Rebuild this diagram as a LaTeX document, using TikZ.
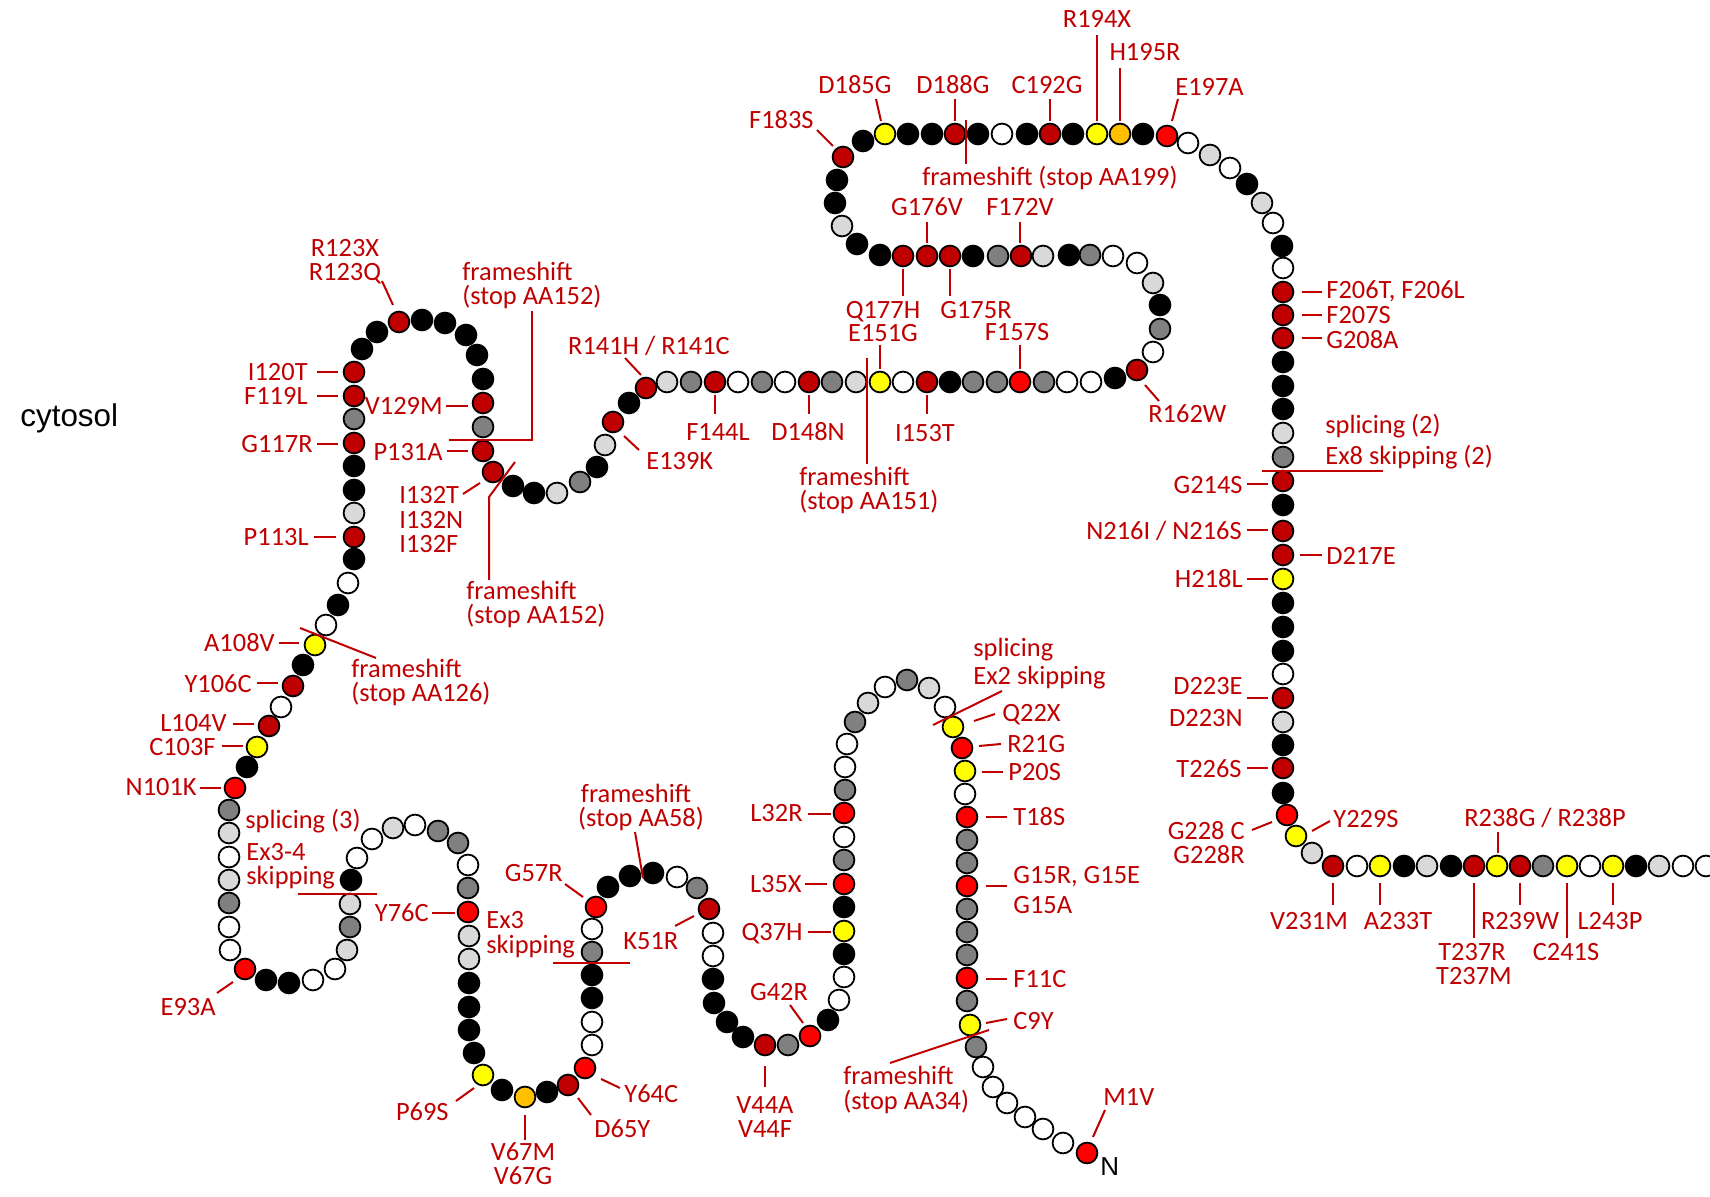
\documentclass[tikz,border=0pt]{standalone}
\usepackage{fontspec}
\setmainfont{Carlito}
\newfontfamily\arialfont{Liberation Sans}
\definecolor{bK}{HTML}{000000}
\definecolor{bW}{HTML}{FFFFFF}
\definecolor{bL}{HTML}{D9D9D9}
\definecolor{bG}{HTML}{808080}
\definecolor{bD}{HTML}{C00000}
\definecolor{bR}{HTML}{FF0000}
\definecolor{bY}{HTML}{FFFF00}
\definecolor{bO}{HTML}{FFC000}
\definecolor{labred}{HTML}{C00000}
\begin{document}
\begin{tikzpicture}[x=0.5pt,y=-0.5pt,
 bead/.style={circle,draw=black,line width=0.9pt,minimum size=10.4pt,inner sep=0pt},
 lab/.style={text=labred,font=\fontsize{13.2pt}{12pt}\selectfont,inner sep=0pt,text height=9.4pt,text depth=0.9pt},
 labL/.style={lab,anchor=east},
 labR/.style={lab,anchor=west},
 labC/.style={lab,anchor=center},
 lead/.style={draw=labred,line width=1pt}]
\useasboundingbox (0,0) rectangle (1710,1197);
\fill[white] (0,0) rectangle (1710,1197);

% ---------------- beads (residue 1 .. 247) ----------------
\foreach \x/\y/\c [count=\i] in {
1087/1153/R,1063/1143/W,1043/1129/W,1025/1117/W,1007/1103/W,993/1087/W,983/1067/W,976/1047/G,970/1025/Y,967/1001/G,
967/978/R,967/955/G,967/932/G,967/909/G,967/886/R,967/863/G,967/840/G,967/817/R,965/794/W,965/771/Y,
962/748/R,953/727/Y,945/707/W,929/688/L,907/680/G,885/687/W,868/703/L,855/722/G,847/744/W,845/767/W,
845/790/G,844/813/R,844/837/W,844/860/G,844/884/R,844/907/K,844/931/Y,844/954/K,844/977/W,839/1000/W,
828/1020/K,810/1036/R,788/1045/G,765/1045/D,743/1037/K,727/1022/K,714/1003/K,713/979/K,713/956/W,713/933/W,
709/909/D,697/888/G,677/877/W,653/873/K,630/876/K,608/887/K,596/907/R,592/929/W,592/952/G,592/975/K,
592/998/K,592/1022/W,592/1045/W,585/1068/R,568/1085/D,547/1092/K,525/1097/O,502/1090/K,483/1075/Y,474/1053/K,
469/1030/K,469/1007/K,469/983/K,469/959/L,469/936/L,468/912/R,468/888/G,468/865/W,458/843/G,438/831/G,
415/825/W,393/828/L,372/839/W,357/858/W,351/880/K,350/904/L,350/927/G,347/950/L,335/969/W,313/980/W,
289/983/K,266/980/K,245/969/R,230/950/W,229/927/W,229/903/G,229/880/L,229/857/W,229/833/L,229/810/G,
235/788/R,247/767/K,257/747/Y,269/726/D,281/707/W,293/686/D,303/665/K,315/645/Y,326/625/W,338/605/K,
348/583/W,354/559/K,354/537/D,354/513/L,354/490/K,354/466/K,354/443/D,354/419/G,354/396/D,354/372/D,
362/349/K,377/332/K,399/322/D,422/320/K,445/323/K,466/335/K,477/355/K,483/379/K,483/403/D,483/427/G,
483/451/D,493/472/D,513/486/K,534/493/K,557/493/L,580/482/G,597/467/K,605/445/L,613/422/D,629/403/K,
646/388/D,667/382/L,691/382/G,715/382/D,738/382/W,762/382/G,785/382/W,809/382/D,832/382/G,856/382/L,
880/382/Y,903/382/W,927/382/D,950/382/K,973/382/G,997/382/G,1020/382/R,1044/382/G,1067/382/W,1091/382/W,
1115/378/K,1137/370/D,1153/352/W,1160/329/G,1160/305/K,1153/283/L,1137/263/W,1113/256/W,1090/255/G,1069/255/K,
1043/256/L,1021/256/D,998/256/G,973/256/K,950/256/D,927/256/D,903/256/D,880/255/K,857/244/K,842/226/L,
835/203/K,837/180/K,843/157/D,863/141/K,885/134/Y,908/134/K,932/134/K,955/134/D,978/134/K,1002/134/W,
1027/134/K,1050/134/D,1073/134/K,1097/134/Y,1120/134/O,1143/134/K,1167/136/R,1188/143/W,1210/155/L,1230/168/W,
1247/184/K,1262/203/L,1273/223/W,1282/246/K,1283/268/W,1283/292/D,1283/315/D,1283/338/D,1283/362/K,1283/386/K,
1283/409/K,1283/433/L,1283/457/G,1283/481/D,1283/505/K,1283/531/D,1283/555/D,1283/579/Y,1283/603/K,1283/627/K,
1283/651/K,1283/674/W,1283/698/D,1283/722/L,1283/745/K,1283/768/D,1283/793/K,1287/815/R,1296/836/Y,1312/853/L,
1333/866/D,1357/866/W,1380/866/Y,1404/866/K,1427/866/L,1451/866/K,1474/866/D,1497/866/Y,1520/866/D,1543/866/G,
1567/866/Y,1590/866/W,1613/866/Y,1636/866/K,1659/866/L,1683/866/W,1706/866/W}
{\node[bead,fill=b\c] (b\i) at (\x,\y) {};}

% ---------------- plain labels ----------------
\node[anchor=west,inner sep=0pt,font=\arialfont\fontsize{15.7pt}{18pt}\selectfont] (cyto) at (20,418) {cytosol};
\node[anchor=west,inner sep=0pt,font=\arialfont\fontsize{13pt}{15pt}\selectfont] (nterm) at (1100,1167) {N};

% ---------------- TM1 region ----------------
\node[labR] (tM1) at (1103,1097) {M1V};
\draw[lead] (1093,1137) -- (1105,1110);
\node[labR] (tC9) at (1013,1021) {C9Y};
\draw[lead] (986,1023) -- (1007,1019);
\node[labR] (tFS34a) at (843,1076) {frameshift};
\node[labR] (tFS34b) at (843,1101) {(stop AA34)};
\draw[lead] (890,1063) -- (989,1030);
\node[labR] (tF11) at (1013,979) {F11C};
\draw[lead] (986,979) -- (1007,979);
\node[labR] (tG15a) at (1013,875) {G15R, G15E};
\node[labR] (tG15b) at (1013,905) {G15A};
\draw[lead] (986,886) -- (1007,886);
\node[labR] (tT18) at (1013,817) {T18S};
\draw[lead] (986,817) -- (1007,817);
\node[labR] (tP20) at (1008,772) {P20S};
\draw[lead] (982,772) -- (1003,772);
\node[labR] (tR21) at (1007,744) {R21G};
\draw[lead] (979,746) -- (1001,744);
\node[labR] (tQ22) at (1002,713) {Q22X};
\draw[lead] (974,721) -- (995,714);
\node[labR] (tSp2a) at (973,648) {splicing};
\node[labR] (tSp2b) at (973,676) {Ex2 skipping};
\draw[lead] (933,725) -- (1002,691);

% ---------------- TM2 / loops ----------------
\node[labL] (tL32) at (803,813) {L32R};
\draw[lead] (808,814) -- (831,814);
\node[labL] (tL35) at (802,884) {L35X};
\draw[lead] (805,884) -- (827,884);
\node[labL] (tQ37) at (803,932) {Q37H};
\draw[lead] (808,932) -- (831,932);
\node[labC] (tG42) at (779,992) {G42R};
\draw[lead] (790,1005) -- (803,1023);
\node[labC] (tV44a) at (765,1105) {V44A};
\node[labC] (tV44b) at (765,1129) {V44F};
\draw[lead] (765,1066) -- (765,1087);
\node[labR] (tK51) at (623,941) {K51R};
\draw[lead] (675,926) -- (694,916);
\node[labC] (tFS58a) at (636,794) {frameshift};
\node[labC] (tFS58b) at (641,818) {(stop AA58)};
\draw[lead] (635,832) -- (643,878);
\node[labL] (tG57) at (563,873) {G57R};
\draw[lead] (565,884) -- (583,897);
\node[labR] (tEx3a) at (486,920) {Ex3};
\node[labR] (tEx3b) at (486,945) {skipping};
\draw[lead] (553,963) -- (630,963);
\node[labL] (tY76) at (429,913) {Y76C};
\draw[lead] (432,913) -- (455,913);
\node[labR] (tY64) at (624,1094) {Y64C};
\draw[lead] (601,1079) -- (620,1088);
\node[labR] (tD65) at (594,1129) {D65Y};
\draw[lead] (578,1098) -- (591,1115);
\node[labC] (tV67a) at (523,1152) {V67M};
\node[labC] (tV67b) at (523,1176) {V67G};
\draw[lead] (525,1115) -- (525,1140);
\node[labL] (tP69) at (449,1112) {P69S};
\draw[lead] (456,1101) -- (474,1088);
\node[labL] (tE93) at (216,1007) {E93A};
\draw[lead] (217,993) -- (233,982);
\node[labR] (tSp3a) at (245,820) {splicing (3)};
\node[labR] (tSp3b) at (246,852) {Ex3-4};
\node[labR] (tSp3c) at (246,876) {skipping};
\draw[lead] (298,894) -- (377,894);
\node[labL] (tN101) at (197,787) {N101K};
\draw[lead] (200,788) -- (221,788);
\node[labL] (tC103) at (216,747) {C103F};
\draw[lead] (222,746) -- (243,746);
\node[labL] (tL104) at (227,723) {L104V};
\draw[lead] (233,724) -- (254,724);
\node[labL] (tY106) at (252,684) {Y106C};
\draw[lead] (257,683) -- (278,683);
\node[labL] (tA108) at (275,643) {A108V};
\draw[lead] (279,643) -- (299,643);
\node[labR] (tFS126a) at (351,669) {frameshift};
\node[labR] (tFS126b) at (351,693) {(stop AA126)};
\draw[lead] (300,628) -- (376,658);
\node[labL] (tP113) at (309,537) {P113L};
\draw[lead] (314,537) -- (336,537);
\node[labL] (tG117) at (313,444) {G117R};
\draw[lead] (317,444) -- (338,444);
\node[labL] (tF119) at (308,396) {F119L};
\draw[lead] (317,396) -- (338,396);
\node[labL] (tI120) at (308,372) {I120T};
\draw[lead] (317,372) -- (338,372);
\node[labC] (tR123a) at (345,248) {R123X};
\node[labC] (tR123b) at (345,272) {R123Q};
\draw[lead] (382,281) -- (393,305);
\node[labL] (tV129) at (443,406) {V129M};
\draw[lead] (446,406) -- (468,406);
\node[labL] (tP131) at (443,452) {P131A};
\draw[lead] (447,451) -- (468,451);
\node[labR] (tFS152a) at (462,272) {frameshift};
\node[labR] (tFS152b) at (462,296) {(stop AA152)};
\draw[lead] (532,311) -- (532,440) -- (449,440);
\node[labR] (tI132a) at (399,495) {I132T};
\node[labR] (tI132b) at (399,520) {I132N};
\node[labR] (tI132c) at (399,544) {I132F};
\draw[lead] (463,494) -- (480,483);
\node[labR] (tFS152c) at (466,591) {frameshift};
\node[labR] (tFS152d) at (466,615) {(stop AA152)};
\draw[lead] (489,580) -- (489,497) -- (515,462);

% ---------------- cytosolic loop ----------------
\node[labR] (tE139) at (646,461) {E139K};
\draw[lead] (624,436) -- (639,450);
\node[labC] (tR141) at (649,346) {R141H / R141C};
\draw[lead] (625,358) -- (641,375);
\node[labC] (tF144) at (718,432) {F144L};
\draw[lead] (715,395) -- (715,414);
\node[labC] (tD148) at (808,432) {D148N};
\draw[lead] (809,395) -- (809,414);
\node[labC] (tI153) at (925,433) {I153T};
\draw[lead] (927,395) -- (927,414);
\node[labR] (tFS151a) at (799,477) {frameshift};
\node[labR] (tFS151b) at (799,501) {(stop AA151)};
\draw[lead] (867,358) -- (867,464);
\node[labC] (tQ177) at (883,310) {Q177H};
\node[labC] (tE151) at (883,333) {E151G};
\draw[lead] (880,345) -- (880,369);
\draw[lead] (903,269) -- (903,296);
\node[labC] (tG175) at (976,310) {G175R};
\draw[lead] (950,269) -- (950,296);
\node[labC] (tF157) at (1017,332) {F157S};
\draw[lead] (1020,345) -- (1020,369);
\node[labR] (tR162) at (1148,414) {R162W};
\draw[lead] (1145,385) -- (1159,401);
\node[labC] (tG176) at (927,207) {G176V};
\draw[lead] (927,222) -- (927,243);
\node[labC] (tF172) at (1020,207) {F172V};
\draw[lead] (1020,222) -- (1020,243);
\node[labC] (tFS199) at (1050,177) {frameshift (stop AA199)};
\draw[lead] (966,120) -- (966,164);
\node[labL] (tF183) at (814,120) {F183S};
\draw[lead] (817,130) -- (833,146);
\node[labC] (tD185) at (855,85) {D185G};
\draw[lead] (876,99) -- (881,121);
\node[labC] (tD188) at (953,85) {D188G};
\draw[lead] (955,99) -- (955,121);
\node[labC] (tC192) at (1047,85) {C192G};
\draw[lead] (1050,99) -- (1050,121);
\node[labC] (tR194) at (1097,19) {R194X};
\draw[lead] (1097,35) -- (1097,121);
\node[labC] (tH195) at (1145,52) {H195R};
\draw[lead] (1120,68) -- (1120,121);
\node[labR] (tE197) at (1175,87) {E197A};
\draw[lead] (1178,99) -- (1172,121);

% ---------------- TM4 and C-terminus ----------------
\node[labR] (tF206) at (1326,290) {F206T, F206L};
\draw[lead] (1302,292) -- (1322,292);
\node[labR] (tF207) at (1326,315) {F207S};
\draw[lead] (1302,315) -- (1322,315);
\node[labR] (tG208) at (1326,340) {G208A};
\draw[lead] (1302,338) -- (1322,338);
\node[labR] (tSp8a) at (1325,425) {splicing (2)};
\node[labR] (tSp8b) at (1325,456) {Ex8 skipping (2)};
\draw[lead] (1262,471) -- (1383,471);
\node[labL] (tG214) at (1243,485) {G214S};
\draw[lead] (1247,484) -- (1268,484);
\node[labL] (tN216) at (1242,531) {N216I / N216S};
\draw[lead] (1247,530) -- (1268,530);
\node[labR] (tD217) at (1326,556) {D217E};
\draw[lead] (1300,555) -- (1322,555);
\node[labL] (tH218) at (1243,579) {H218L};
\draw[lead] (1247,579) -- (1268,579);
\node[labL] (tD223a) at (1243,686) {D223E};
\node[labL] (tD223b) at (1243,718) {D223N};
\draw[lead] (1247,698) -- (1268,698);
\node[labL] (tT226) at (1242,769) {T226S};
\draw[lead] (1247,768) -- (1268,768);
\node[labL] (tG228a) at (1245,831) {G228 C};
\node[labL] (tG228b) at (1245,855) {G228R};
\draw[lead] (1252,830) -- (1272,822);
\node[labR] (tY229) at (1333,819) {Y229S};
\draw[lead] (1312,831) -- (1330,821);
\node[labC] (tV231) at (1309,921) {V231M};
\draw[lead] (1333,883) -- (1333,905);
\node[labC] (tA233) at (1398,921) {A233T};
\draw[lead] (1380,883) -- (1380,905);
\node[labC] (tT237a) at (1472,952) {T237R};
\node[labC] (tT237b) at (1474,976) {T237M};
\draw[lead] (1474,883) -- (1474,938);
\node[labC] (tR238) at (1545,818) {R238G / R238P};
\draw[lead] (1498,832) -- (1498,853);
\node[labC] (tR239) at (1520,921) {R239W};
\draw[lead] (1520,883) -- (1520,905);
\node[labC] (tC241) at (1566,952) {C241S};
\draw[lead] (1567,883) -- (1567,938);
\node[labC] (tL243) at (1610,921) {L243P};
\draw[lead] (1613,883) -- (1613,905);
\end{tikzpicture}
\end{document}
